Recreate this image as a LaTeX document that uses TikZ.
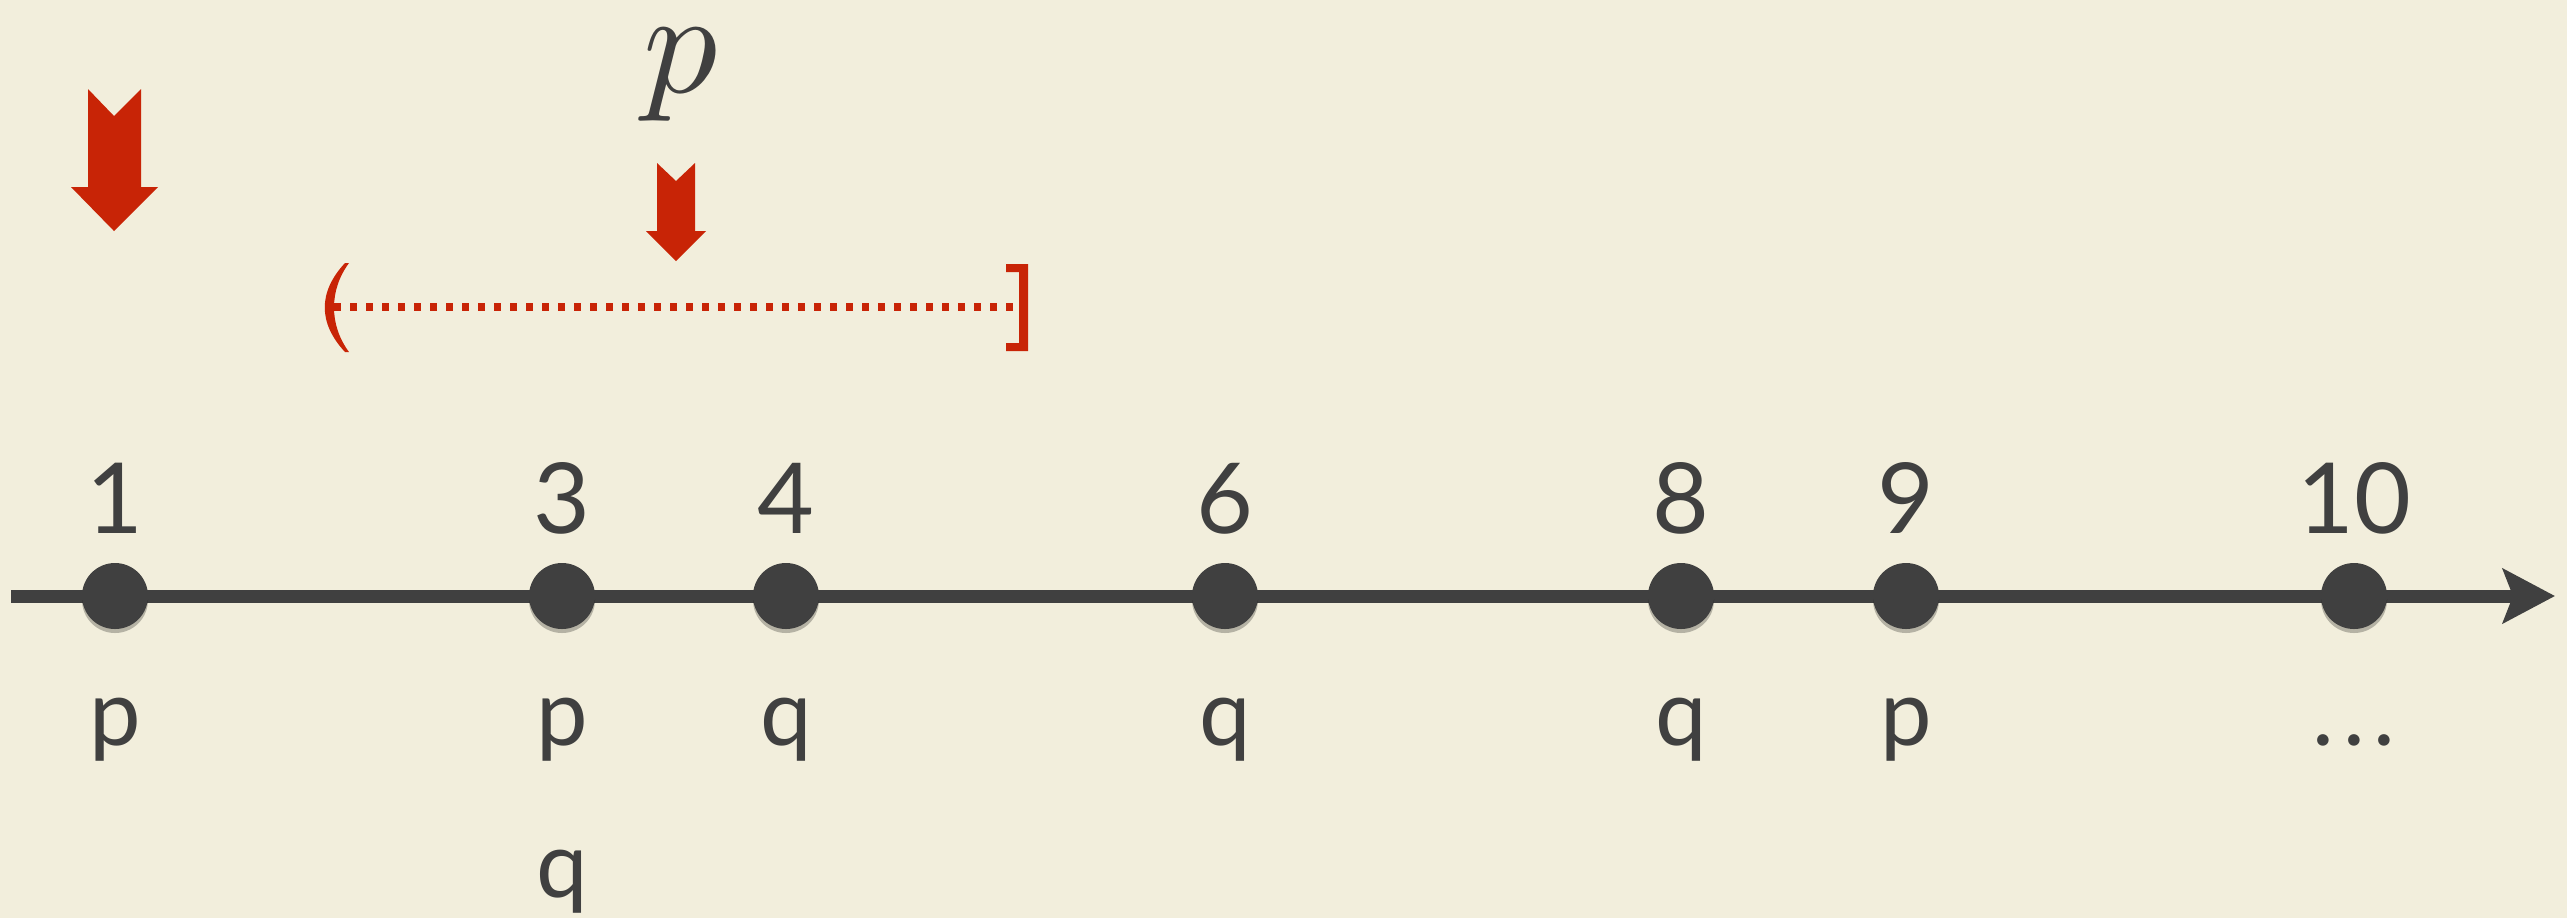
\documentclass[tikz,border=0pt]{standalone}
\usepackage{fontspec}
\setmainfont{Lato}
\usetikzlibrary{arrows.meta,shadows}
\definecolor{bg}{RGB}{242,238,220}
\definecolor{ink}{RGB}{64,64,64}
\definecolor{accent}{RGB}{200,36,6}
\begin{document}
\begin{tikzpicture}[x=0.5pt,y=-0.5pt,
  num/.style={font=\fontsize{49}{49}\selectfont, text=ink, anchor=base, inner sep=0pt},
  lab/.style={font=\fontsize{46}{46}\selectfont, text=ink, anchor=base, inner sep=0pt},
  dotnode/.style={circle, fill=ink, minimum size=33pt, inner sep=0pt,
    drop shadow={shadow xshift=0pt, shadow yshift=-2pt, opacity=0.25, fill=black}},
  axisline/.style={draw=ink, line width=6.5pt, -{Stealth[length=26pt,width=27pt,inset=5pt]}},
  redshape/.style={fill=accent, draw=none},
  dotline/.style={draw=accent, line width=4pt, dash pattern=on 3.5pt off 4.5pt}]
\fill[bg] (0,0) rectangle (2567,918);
\useasboundingbox (0,0) rectangle (2567,918);
% axis
\coordinate (axstart) at (11,596);
\coordinate (axend) at (2555,596);
\draw[axisline] (axstart) -- (axend);
% dots
\foreach \n/\x in {1/115,3/562,4/786,6/1225,8/1681,9/1906,10/2354}{
  \node[dotnode] (d\n) at (\x,596) {};
  \node[num] (n\n) at (\x,533) {\n};
}
% labels below
\node[lab] (l1) at (115,745) {p};
\node[lab] (l3) at (562,745) {p};
\node[lab] (l3b) at (562,897) {q};
\node[lab] (l4) at (786,745) {q};
\node[lab] (l6) at (1225,745) {q};
\node[lab] (l8) at (1681,745) {q};
\node[lab] (l9) at (1906,745) {p};
\node[lab] (l10) at (2354,745) {.\kern4.5pt.\kern4.5pt.};
% big red arrow
\fill[redshape] (88,89) -- (114,116) -- (141,89) -- (141,187) -- (158,187) -- (114,231) -- (71,187) -- (88,187) -- cycle;
% small red arrow
\fill[redshape] (657,163) -- (676,181) -- (695,163) -- (695,231) -- (706,231) -- (676,261) -- (646,231) -- (657,231) -- cycle;
% p label
\node[anchor=base, text=ink, scale=7.4, inner sep=0pt] (ptop) at (681,92) {$p$};
% interval
\fill[redshape] (345,263) .. controls (318,292) and (318,323) .. (345,352) -- (349,352) .. controls (329,325) and (329,290) .. (349,263) -- cycle;
\fill[redshape] (1006,264) -- (1028,264) -- (1028,351) -- (1006,351) -- (1006,343) -- (1019,343) -- (1019,272) -- (1006,272) -- cycle;
\coordinate (ivl) at (334,307);
\coordinate (ivr) at (1014,307);
\draw[dotline] (ivl) -- (ivr);
\end{tikzpicture}
\end{document}
